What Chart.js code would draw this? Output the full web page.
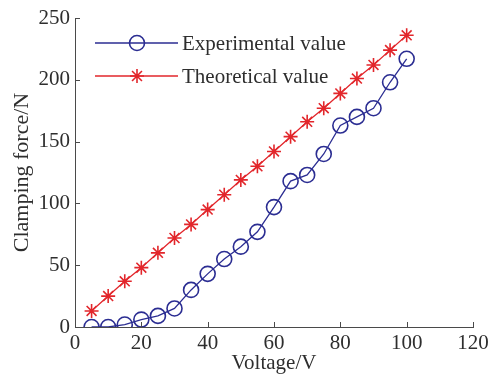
<!DOCTYPE html>
<html>
<head>
<meta charset="utf-8">
<script src="https://cdn.jsdelivr.net/npm/chart.js@4/dist/chart.umd.min.js"></script>
<style>
  html, body { margin: 0; padding: 0; background: #fff; }
  #wrap { width: 493px; height: 376px; position: relative; }
</style>
</head>
<body>
<div id="wrap"><canvas id="c" width="493" height="376"></canvas></div>
<script>
const voltages = [5, 10, 15, 20, 25, 30, 35, 40, 45, 50, 55, 60, 65, 70, 75, 80, 85, 90, 95, 100];
const experimentalValues = [0, 0, 2, 6, 9, 15, 30, 43, 55, 65, 77, 97, 118, 123, 140, 163, 170, 177, 198, 217];
const theoreticalValues = [13, 25, 37, 48, 60, 72, 83, 95, 107, 119, 130, 142, 154, 166, 177, 189, 201, 212, 224, 236];
const seriesNames = ['Experimental value', 'Theoretical value'];
const xTicks = [0, 20, 40, 60, 80, 100, 120];
const yTicks = [0, 50, 100, 150, 200, 250];

const BLUE = '#2b2d92';
const RED = '#e2262b';
const AXIS = '#4a4a4a';
const TEXT = '#2e2e2e';
const FONT = "'Liberation Serif', 'Times New Roman', serif";

function pts(xs, ys) { return xs.map((x, i) => ({ x: x, y: ys[i] })); }

const tickPlugin = {
  id: 'inwardTicks',
  afterDraw(chart) {
    const ctx = chart.ctx;
    const xs = chart.scales.x, ys = chart.scales.y;
    ctx.save();
    ctx.strokeStyle = AXIS;
    ctx.lineWidth = 1;
    ctx.beginPath();
    xTicks.forEach(v => {
      const px = Math.round(xs.getPixelForValue(v)) + 0.5;
      ctx.moveTo(px, ys.bottom);
      ctx.lineTo(px, ys.bottom - 5);
    });
    yTicks.forEach(v => {
      const py = Math.round(ys.getPixelForValue(v)) + 0.5;
      ctx.moveTo(xs.left, py);
      ctx.lineTo(xs.left + 5, py);
    });
    ctx.stroke();
    ctx.restore();
  }
};

const legendPlugin = {
  id: 'insideLegend',
  afterDatasetsDraw(chart) {
    const ctx = chart.ctx;
    const dsList = chart.data.datasets;
    const x0 = 95, x1 = 178, mx = 137, tx = 182;
    const rows = [43, 76];
    ctx.save();
    dsList.forEach((ds, i) => {
      const y = rows[i];
      ctx.strokeStyle = ds.borderColor;
      ctx.lineWidth = ds.borderWidth;
      ctx.beginPath();
      ctx.moveTo(x0, y);
      ctx.lineTo(x1, y);
      ctx.stroke();
      ctx.strokeStyle = ds.pointBorderColor;
      ctx.fillStyle = ds.pointBackgroundColor;
      ctx.lineWidth = ds.pointBorderWidth;
      Chart.helpers.drawPoint(ctx, {
        pointStyle: ds.pointStyle,
        radius: ds.pointRadius,
        rotation: 0,
        borderWidth: ds.pointBorderWidth
      }, mx, y);
      ctx.fillStyle = TEXT;
      ctx.font = '21px ' + FONT;
      ctx.textAlign = 'left';
      ctx.textBaseline = 'middle';
      ctx.fillText(ds.label, tx, y + 1);
    });
    ctx.restore();
  }
};

new Chart(document.getElementById('c'), {
  type: 'scatter',
  data: {
    datasets: [
      {
        label: seriesNames[0],
        data: pts(voltages, experimentalValues),
        showLine: true,
        tension: 0,
        borderColor: BLUE,
        borderWidth: 1.3,
        pointStyle: 'circle',
        pointRadius: 7.5,
        pointBorderWidth: 1.6,
        pointBorderColor: BLUE,
        pointBackgroundColor: 'rgba(0,0,0,0)'
      },
      {
        label: seriesNames[1],
        data: pts(voltages, theoreticalValues),
        showLine: true,
        tension: 0,
        borderColor: RED,
        borderWidth: 1.3,
        pointStyle: 'star',
        pointRadius: 7,
        pointBorderWidth: 1.6,
        pointBorderColor: RED,
        pointBackgroundColor: RED
      }
    ]
  },
  options: {
    responsive: false,
    animation: false,
    devicePixelRatio: 1,
    layout: { padding: { left: 0, right: 20, top: 18, bottom: 0 } },
    plugins: {
      legend: { display: false },
      tooltip: { enabled: false }
    },
    scales: {
      x: {
        type: 'linear',
        min: 0, max: 120,
        afterBuildTicks: s => { s.ticks = xTicks.map(v => ({ value: v })); },
        afterFit: s => { s.height = 49; s.paddingRight = 0; s.paddingLeft = 0; },
        grid: { display: false, drawTicks: false, tickLength: 0 },
        border: { display: true, color: AXIS, width: 1 },
        ticks: { color: TEXT, font: { family: FONT, size: 21 }, padding: 4, maxRotation: 0 },
        title: { display: true, text: 'Voltage/V', color: TEXT, font: { family: FONT, size: 21 }, padding: { top: 0, bottom: 0 } }
      },
      y: {
        type: 'linear',
        min: 0, max: 250,
        afterBuildTicks: s => { s.ticks = yTicks.map(v => ({ value: v })); },
        afterFit: s => { s.width = 75; s.paddingTop = 0; s.paddingBottom = 0; },
        grid: { display: false, drawTicks: false, tickLength: 0 },
        border: { display: true, color: AXIS, width: 1 },
        ticks: { color: TEXT, font: { family: FONT, size: 21 }, padding: 5 },
        title: { display: true, text: 'Clamping force/N', color: TEXT, font: { family: FONT, size: 22 }, padding: { top: 9, bottom: 0 } }
      }
    }
  },
  plugins: [tickPlugin, legendPlugin]
});
</script>
</body>
</html>
